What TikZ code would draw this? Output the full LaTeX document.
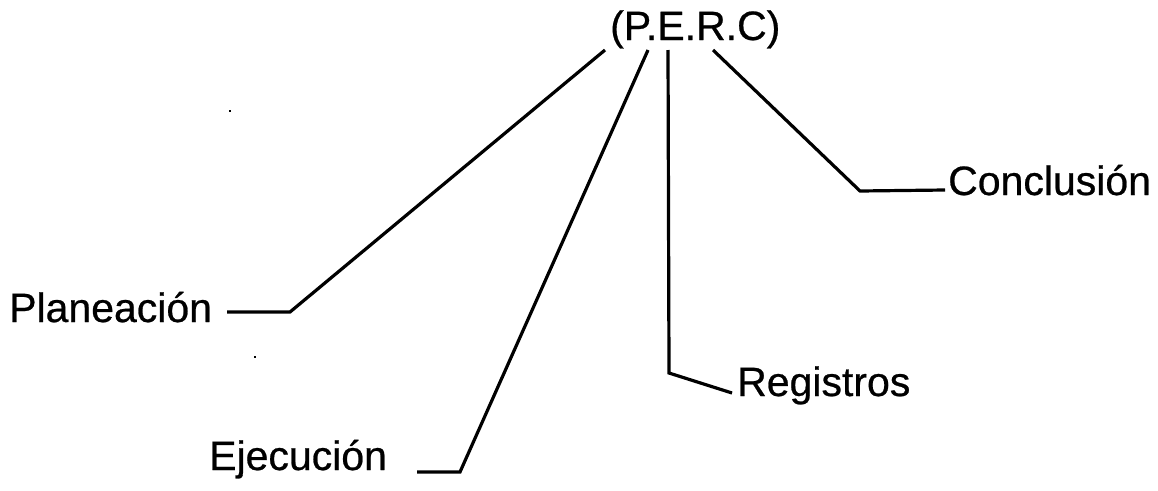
\documentclass[tikz,border=0pt]{standalone}
\usepackage{fontspec}
\setmainfont{Liberation Sans}
\newfontfamily\lblfont[FakeBold=0.6]{Liberation Sans}
\begin{document}
\begin{tikzpicture}[x=1pt,y=-1pt,
  lbl/.style={font=\lblfont\fontsize{41}{49}\selectfont, inner sep=0pt, anchor=base west},
  conn/.style={line width=3.2pt, line join=miter, line cap=butt},
  speck/.style={fill=black, inner sep=0pt, minimum size=2.5pt, shape=rectangle}]
\useasboundingbox (0,0) rectangle (1158,490);
% texts
\node[lbl] (perc) at (610,40) {(P.E.R.C)};
\node[lbl] (plan) at (9,322) {Planeación};
\node[lbl] (ejec) at (209,470) {Ejecución};
\node[lbl] (reg)  at (737,396) {Registros};
\node[lbl] (conc) at (948,195) {Conclusión};
% connector points
\coordinate (t1) at (605,50);
\coordinate (t2) at (648,50);
\coordinate (t3) at (668,50);
\coordinate (t4) at (713,50);
\coordinate (k1) at (290,312);
\coordinate (e1) at (227,312);
\coordinate (k2) at (460,472);
\coordinate (e2) at (417,472);
\coordinate (k3) at (669,373);
\coordinate (e3) at (732,393);
\coordinate (k4) at (860,191);
\coordinate (e4) at (945,190);
% connectors
\draw[conn] (t1) -- (k1) -- (e1);
\draw[conn] (t2) -- (k2) -- (e2);
\draw[conn] (t3) -- (k3) -- (e3);
\draw[conn] (t4) -- (k4) -- (e4);
% stray specks
\node[speck] (s1) at (230,111) {};
\node[speck] (s2) at (255,357) {};
\end{tikzpicture}
\end{document}
